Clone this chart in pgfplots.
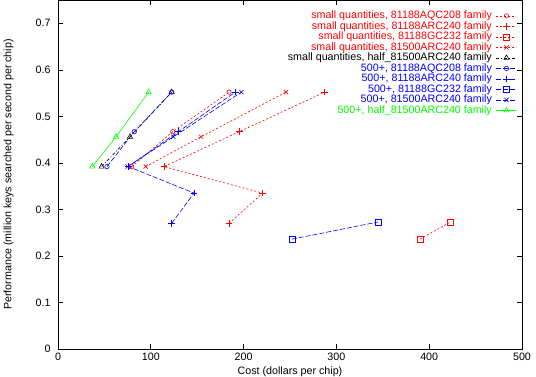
\documentclass[border=0pt]{standalone}
\usepackage{fontspec}
\setmainfont{Liberation Sans}
\usepackage{pgfplots}
\pgfplotsset{compat=1.18}
\begin{document}
\begin{tikzpicture}
\begin{axis}[
  scale only axis, width=464bp, height=349bp,
  at={(0,0)}, anchor=south west,
  xmin=0, xmax=500, ymin=0, ymax=0.75,
  xtick={0,100,200,300,400,500},
  ytick={0,0.1,0.2,0.3,0.4,0.5,0.6,0.7},
  tick align=inside, major tick length=5bp,
  axis line style={line width=0.6bp},
  tick style={line width=0.6bp, black},
  /pgf/number format/assume math mode=true,
  font=\fontsize{10.7bp}{12bp}\selectfont,
  tick label style={font=\fontsize{10.7bp}{12bp}\selectfont},
  yticklabel style={xshift=-4bp},
  xticklabel style={yshift=-1bp},
  xlabel={Cost (dollars per chip)},
  ylabel={Performance (million keys searched per second per chip)},
  xlabel style={at={(axis description cs:0.5,-0.0645)}, anchor=center, font=\fontsize{10.7bp}{12bp}\selectfont},
  ylabel style={at={(axis description cs:-0.1067,0.5)}, anchor=center, font=\fontsize{10.7bp}{12bp}\selectfont},
  legend plot pos=right,
  legend cell align=right,
  legend style={draw=none, fill=none, at={(axis description cs:0.9892,0.970)}, anchor=north east,
    font=\fontsize{10.7bp}{12bp}\selectfont, inner sep=0pt, row sep=0pt, column sep=4bp,
    nodes={inner sep=0.3bp, text height=7.7bp, text depth=2.2bp}},
  legend image code/.code={\draw[mark repeat=2,mark phase=2] plot coordinates {(0bp,0bp)(10bp,0bp)(20bp,0bp)};},
  every axis plot/.append style={line width=0.6bp, mark options={solid, line width=0.6bp}},
]
\addplot[red, dash pattern=on 2bp off 2bp, mark=o, mark size=2.2bp] coordinates {(79.4,0.392)(123.6,0.467)(184.3,0.552)};
\addlegendentry{\textcolor{red}{small quantities, 81188AQC208 family}}
\addplot[red, dash pattern=on 2bp off 2bp, mark=+, mark size=3.3bp] coordinates {(184.3,0.270)(220.5,0.335)(114.2,0.392)(195.4,0.467)(287.4,0.552)};
\addlegendentry{\textcolor{red}{small quantities, 81188ARC240 family}}
\addplot[red, dash pattern=on 2bp off 2bp, mark=square, mark size=3bp] coordinates {(390,0.236)(423,0.273)};
\addlegendentry{\textcolor{red}{small quantities, 81188GC232 family}}
\addplot[red, dash pattern=on 2bp off 2bp, mark=x, mark size=3bp] coordinates {(94.5,0.392)(154.1,0.456)(245.7,0.552)};
\addlegendentry{\textcolor{red}{small quantities, 81500ARC240 family}}
\addplot[black, dash pattern=on 3bp off 2bp on 1bp off 2bp, mark=triangle, mark size=3bp] coordinates {(47,0.392)(77.6,0.456)(122.5,0.552)};
\addlegendentry{small quantities, half\_81500ARC240 family}
\addplot[blue, dash pattern=on 5bp off 2bp, mark=o, mark size=2.2bp] coordinates {(52.8,0.392)(82.2,0.467)(122.5,0.552)};
\addlegendentry{\textcolor{blue}{500+, 81188AQC208 family}}
\addplot[blue, dash pattern=on 5bp off 2bp, mark=+, mark size=3.3bp] coordinates {(122.5,0.270)(146.6,0.335)(75.8,0.392)(129.7,0.467)(191,0.552)};
\addlegendentry{\textcolor{blue}{500+, 81188ARC240 family}}
\addplot[blue, dash pattern=on 5bp off 2bp, mark=square, mark size=3bp] coordinates {(252,0.236)(345,0.273)};
\addlegendentry{\textcolor{blue}{500+, 81188GC232 family}}
\addplot[blue, dash pattern=on 5bp off 2bp, mark=x, mark size=3bp] coordinates {(75,0.392)(124.3,0.456)(197.6,0.552)};
\addlegendentry{\textcolor{blue}{500+, 81500ARC240 family}}
\addplot[green, solid, mark=triangle, mark size=3bp] coordinates {(37,0.392)(62.5,0.456)(97.7,0.552)};
\addlegendentry{\textcolor{green}{500+, half\_81500ARC240 family}}
\end{axis}
\pgfresetboundingbox
\useasboundingbox (-58bp,-28bp) rectangle (478bp,349bp);
\end{tikzpicture}
\end{document}
